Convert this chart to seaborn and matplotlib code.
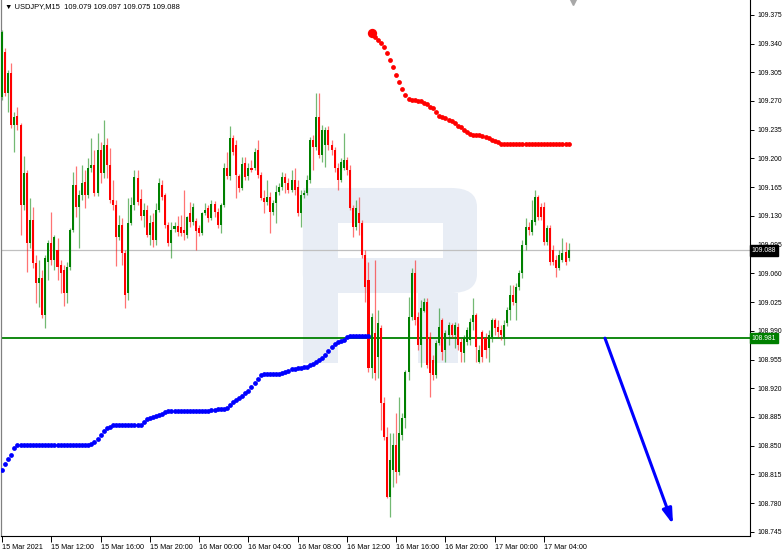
import numpy as np
import pandas as pd
import seaborn as sns
import matplotlib.pyplot as plt
from matplotlib.patches import Rectangle, FancyBboxPatch

# USDJPY M15, one candle per 15 minutes starting 15 Mar 2021 08:00
opens = [
    109.275, 109.330, 109.280, 109.304, 109.241, 109.252, 109.241, 109.143, 109.182, 109.097,
    109.125, 109.073, 109.048, 109.054, 109.009, 109.074, 109.097, 109.076, 109.088, 109.070,
    109.064, 109.036, 109.068, 109.113, 109.168, 109.141, 109.155, 109.171, 109.155, 109.188,
    109.192, 109.158, 109.210, 109.182, 109.216, 109.192, 109.149, 109.143, 109.104, 109.119,
    109.085, 109.036, 109.121, 109.143, 109.176, 109.151, 109.130, 109.137, 109.107, 109.123,
    109.101, 109.137, 109.168, 109.155, 109.119, 109.097, 109.114, 109.118, 109.116, 109.113,
    109.107, 109.133, 109.123, 109.124, 109.115, 109.109, 109.133, 109.140, 109.127, 109.144,
    109.135, 109.119, 109.143, 109.188, 109.179, 109.225, 109.216, 109.179, 109.164, 109.194,
    109.179, 109.188, 109.188, 109.210, 109.180, 109.152, 109.147, 109.153, 109.135, 109.146,
    109.159, 109.165, 109.177, 109.170, 109.162, 109.174, 109.165, 109.133, 109.155, 109.158,
    109.174, 109.222, 109.214, 109.250, 109.204, 109.216, 109.235, 109.216, 109.210, 109.188,
    109.174, 109.188, 109.198, 109.186, 109.140, 109.116, 109.133, 109.121, 109.082, 109.052,
    108.945, 108.987, 108.958, 108.993, 108.902, 108.861, 108.787, 108.820, 108.851, 108.818,
    108.863, 108.884, 108.940, 109.007, 109.060, 109.007, 108.973, 109.014, 109.025, 108.982,
    108.954, 108.936, 108.975, 109.003, 108.967, 108.985, 108.997, 108.985, 108.995, 108.976,
    108.963, 108.976, 108.979, 109.001, 109.009, 108.952, 108.988, 108.981, 108.969, 108.982,
    109.003, 108.995, 108.991, 108.982, 108.999, 109.015, 109.034, 109.024, 109.043, 109.060,
    109.094, 109.116, 109.110, 109.123, 109.153, 109.141, 109.141, 109.098, 109.115, 109.088,
    109.076, 109.066, 109.076, 109.086, 109.079,
]
highs = [
    109.356, 109.335, 109.308, 109.316, 109.257, 109.263, 109.243, 109.203, 109.186, 109.152,
    109.141, 109.082, 109.076, 109.064, 109.082, 109.101, 109.135, 109.107, 109.103, 109.076,
    109.070, 109.074, 109.115, 109.183, 109.191, 109.162, 109.192, 109.186, 109.200, 109.225,
    109.210, 109.231, 109.220, 109.247, 109.225, 109.213, 109.174, 109.149, 109.131, 109.127,
    109.088, 109.152, 109.153, 109.186, 109.186, 109.163, 109.146, 109.143, 109.131, 109.133,
    109.146, 109.176, 109.174, 109.158, 109.123, 109.123, 109.123, 109.130, 109.131, 109.162,
    109.130, 109.147, 109.146, 109.127, 109.119, 109.135, 109.146, 109.143, 109.149, 109.148,
    109.140, 109.146, 109.194, 109.208, 109.240, 109.229, 109.222, 109.181, 109.202, 109.202,
    109.194, 109.198, 109.213, 109.222, 109.183, 109.162, 109.174, 109.159, 109.149, 109.168,
    109.170, 109.183, 109.182, 109.176, 109.186, 109.188, 109.174, 109.162, 109.162, 109.180,
    109.226, 109.229, 109.280, 109.280, 109.241, 109.238, 109.240, 109.222, 109.214, 109.194,
    109.200, 109.231, 109.202, 109.192, 109.143, 109.149, 109.153, 109.125, 109.088, 109.074,
    109.012, 109.076, 109.015, 108.997, 108.909, 108.873, 108.865, 108.865, 108.890, 108.909,
    108.890, 108.942, 109.031, 109.066, 109.076, 109.013, 109.027, 109.030, 109.030, 108.988,
    108.960, 108.979, 109.018, 109.006, 108.991, 109.001, 108.999, 109.001, 108.999, 108.981,
    108.985, 108.995, 109.006, 109.030, 109.012, 108.973, 108.991, 108.987, 108.991, 109.006,
    109.006, 109.003, 108.997, 109.003, 109.019, 109.046, 109.046, 109.048, 109.064, 109.101,
    109.127, 109.123, 109.149, 109.162, 109.155, 109.146, 109.147, 109.119, 109.119, 109.094,
    109.082, 109.088, 109.103, 109.098, 109.097,
]
lows = [
    109.271, 109.276, 109.257, 109.237, 109.208, 109.235, 109.107, 109.137, 109.062, 109.091,
    109.066, 109.024, 109.019, 109.006, 108.993, 109.052, 109.070, 109.064, 109.052, 109.036,
    109.020, 109.024, 109.064, 109.110, 109.129, 109.091, 109.149, 109.140, 109.152, 109.183,
    109.154, 109.154, 109.170, 109.176, 109.176, 109.146, 109.137, 109.069, 109.101, 109.070,
    109.018, 109.027, 109.119, 109.137, 109.143, 109.125, 109.116, 109.104, 109.094, 109.092,
    109.094, 109.135, 109.149, 109.115, 109.093, 109.079, 109.110, 109.105, 109.105, 109.101,
    109.103, 109.116, 109.119, 109.088, 109.105, 109.107, 109.131, 109.123, 109.125, 109.129,
    109.115, 109.109, 109.141, 109.175, 109.174, 109.204, 109.152, 109.159, 109.162, 109.174,
    109.174, 109.183, 109.186, 109.176, 109.149, 109.133, 109.143, 109.109, 109.131, 109.121,
    109.155, 109.162, 109.158, 109.158, 109.159, 109.155, 109.130, 109.116, 109.152, 109.155,
    109.170, 109.186, 109.210, 109.200, 109.196, 109.190, 109.210, 109.204, 109.183, 109.162,
    109.171, 109.186, 109.180, 109.137, 109.104, 109.113, 109.107, 109.079, 109.025, 108.940,
    108.932, 108.930, 108.932, 108.869, 108.857, 108.786, 108.763, 108.800, 108.804, 108.814,
    108.857, 108.871, 108.930, 109.003, 108.997, 108.967, 108.946, 109.013, 108.945, 108.909,
    108.930, 108.932, 108.973, 108.954, 108.952, 108.973, 108.981, 108.969, 108.967, 108.952,
    108.952, 108.973, 108.973, 108.991, 108.952, 108.951, 108.952, 108.957, 108.952, 108.976,
    108.985, 108.982, 108.979, 108.973, 108.996, 109.003, 109.021, 109.003, 109.040, 109.054,
    109.088, 109.107, 109.107, 109.119, 109.125, 109.125, 109.094, 109.094, 109.070, 109.070,
    109.055, 109.064, 109.074, 109.070, 109.075,
]
closes = [
    109.354, 109.280, 109.304, 109.241, 109.250, 109.241, 109.143, 109.182, 109.097, 109.125,
    109.073, 109.048, 109.054, 109.009, 109.079, 109.097, 109.076, 109.104, 109.068, 109.060,
    109.036, 109.068, 109.113, 109.168, 109.141, 109.155, 109.170, 109.155, 109.188, 109.192,
    109.158, 109.210, 109.182, 109.216, 109.192, 109.149, 109.143, 109.104, 109.119, 109.085,
    109.034, 109.121, 109.143, 109.177, 109.147, 109.130, 109.137, 109.107, 109.121, 109.101,
    109.137, 109.170, 109.153, 109.119, 109.097, 109.113, 109.118, 109.110, 109.109, 109.109,
    109.129, 109.123, 109.141, 109.112, 109.109, 109.133, 109.137, 109.127, 109.144, 109.135,
    109.119, 109.143, 109.188, 109.179, 109.225, 109.208, 109.180, 109.164, 109.193, 109.177,
    109.188, 109.186, 109.208, 109.180, 109.152, 109.147, 109.153, 109.135, 109.146, 109.159,
    109.165, 109.177, 109.170, 109.162, 109.174, 109.162, 109.133, 109.155, 109.158, 109.174,
    109.222, 109.214, 109.250, 109.204, 109.235, 109.235, 109.216, 109.210, 109.188, 109.174,
    109.196, 109.198, 109.186, 109.140, 109.116, 109.140, 109.121, 109.082, 109.043, 108.945,
    109.007, 108.939, 108.999, 108.902, 108.861, 108.787, 108.832, 108.851, 108.818, 108.865,
    108.884, 108.940, 109.007, 109.060, 109.003, 108.973, 109.018, 109.025, 108.948, 108.939,
    108.936, 108.975, 108.995, 108.964, 108.987, 108.997, 108.985, 108.997, 108.973, 108.964,
    108.981, 108.991, 109.001, 109.009, 108.970, 108.967, 108.958, 108.967, 108.985, 109.003,
    108.993, 108.988, 108.985, 108.997, 109.015, 109.034, 109.025, 109.043, 109.060, 109.094,
    109.116, 109.113, 109.125, 109.153, 109.129, 109.129, 109.098, 109.115, 109.074, 109.074,
    109.066, 109.082, 109.085, 109.074, 109.088,
]

# dotted indicator below price (bars 0..119) and above price (bars 120..184)
dots_below = [
    108.820, 108.828, 108.834, 108.839, 108.847, 108.851, 108.851, 108.851, 108.851, 108.851,
    108.851, 108.851, 108.851, 108.851, 108.851, 108.851, 108.851, 108.851, 108.851, 108.851,
    108.851, 108.851, 108.851, 108.851, 108.851, 108.851, 108.851, 108.851, 108.851, 108.852,
    108.854, 108.858, 108.863, 108.868, 108.871, 108.873, 108.875, 108.875, 108.875, 108.875,
    108.875, 108.875, 108.875, 108.875, 108.875, 108.875, 108.879, 108.882, 108.884, 108.885,
    108.886, 108.887, 108.889, 108.891, 108.892, 108.892, 108.892, 108.892, 108.892, 108.892,
    108.892, 108.892, 108.892, 108.892, 108.892, 108.892, 108.892, 108.892, 108.893, 108.894,
    108.895, 108.895, 108.895, 108.896, 108.900, 108.903, 108.906, 108.908, 108.910, 108.914,
    108.917, 108.921, 108.926, 108.931, 108.936, 108.937, 108.937, 108.937, 108.937, 108.937,
    108.937, 108.938, 108.940, 108.941, 108.943, 108.944, 108.945, 108.945, 108.946, 108.946,
    108.948, 108.950, 108.952, 108.954, 108.957, 108.961, 108.965, 108.970, 108.974, 108.976,
    108.977, 108.979, 108.982, 108.984, 108.984, 108.984, 108.984, 108.984, 108.984, 108.984,
]
dots_above = [
    109.353, 109.348, 109.344, 109.341, 109.336, 109.328, 109.320, 109.311, 109.302, 109.293,
    109.285, 109.277, 109.272, 109.271, 109.271, 109.270, 109.270, 109.268, 109.266, 109.263,
    109.261, 109.257, 109.252, 109.250, 109.249, 109.247, 109.245, 109.243, 109.240, 109.238,
    109.235, 109.232, 109.230, 109.229, 109.229, 109.228, 109.227, 109.226, 109.225, 109.223,
    109.221, 109.220, 109.218, 109.217, 109.217, 109.217, 109.217, 109.217, 109.217, 109.217,
    109.217, 109.217, 109.217, 109.217, 109.217, 109.217, 109.217, 109.217, 109.217, 109.217,
    109.217, 109.217, 109.217, 109.217, 109.217,
]

level_price = 108.981
last_price = 109.088
arrow_start = (195.8, 108.981)
arrow_end = (217.9, 108.754)
header = "USDJPY,M15  109.079 109.097 109.075 109.088"

price_ticks = [108.745, 108.780, 108.815, 108.850, 108.885, 108.920, 108.955, 108.990,
               109.025, 109.060, 109.095, 109.130, 109.165, 109.200, 109.235, 109.270,
               109.305, 109.340, 109.375]
time_ticks = [0, 16, 32, 48, 64, 80, 96, 112, 128, 144, 160, 176]
time_labels = ["15 Mar 2021", "15 Mar 12:00", "15 Mar 16:00", "15 Mar 20:00",
               "16 Mar 00:00", "16 Mar 04:00", "16 Mar 08:00", "16 Mar 12:00",
               "16 Mar 16:00", "16 Mar 20:00", "17 Mar 00:00", "17 Mar 04:00"]

df = pd.DataFrame({"open": opens, "high": highs, "low": lows, "close": closes})
df["bar"] = np.arange(len(df))
up = df["close"] >= df["open"]
GREEN, RED = "#008000", "#FF0000"
body_col = np.where(up, GREEN, RED)

below = pd.DataFrame({"bar": np.arange(len(dots_below)), "price": dots_below})
above = pd.DataFrame({"bar": np.arange(len(df) - len(dots_above), len(df)), "price": dots_above})

sns.set_style("white")
plt.rcParams["font.family"] = ["Liberation Sans", "DejaVu Sans"]

fig = plt.figure(figsize=(7.82, 5.52), dpi=100)
ax = fig.add_axes([1 / 782, 16 / 552, 749 / 782, 536 / 552])

# watermark logo
wm = "#E8EDF5"
ax.add_patch(FancyBboxPatch((0.403, 0.4534), 0.2325, 0.1959,
                            boxstyle="round,pad=0,rounding_size=0.035",
                            transform=ax.transAxes, fc=wm, ec="none", zorder=0.3))
ax.add_patch(Rectangle((0.4499, 0.5187), 0.1402, 0.0653, transform=ax.transAxes,
                       fc="white", ec="none", zorder=0.4))
ax.add_patch(Rectangle((0.4032, 0.3228), 0.0467, 0.3265, transform=ax.transAxes,
                       fc=wm, ec="none", zorder=0.4))
ax.add_patch(Rectangle((0.5567, 0.3228), 0.0534, 0.1306, transform=ax.transAxes,
                       fc=wm, ec="none", zorder=0.4))

# horizontal levels
ax.axhline(last_price, color="#C0C0C0", lw=0.9, zorder=1)
ax.axhline(level_price, color=GREEN, lw=1.3, zorder=1.5)

# candles
ax.vlines(df["bar"], df["low"], df["high"], colors=body_col, lw=0.9, alpha=0.55, zorder=2)
body_h = (df["close"] - df["open"]).abs().clip(lower=0.0011)
body_bottom = np.minimum(df["open"], df["close"])
ax.bar(df["bar"], body_h, bottom=body_bottom, width=0.66, color=body_col, linewidth=0, zorder=3)

# dotted indicator
sns.scatterplot(data=below, x="bar", y="price", color="#0000FF", s=12, linewidth=0, ax=ax, zorder=4)
sns.scatterplot(data=above, x="bar", y="price", color="#FF0000", s=12, linewidth=0, ax=ax, zorder=4)
ax.scatter(above["bar"].iloc[:1], above["price"].iloc[:1], color="#FF0000", s=45, linewidths=0, zorder=4)

# forecast arrow
ax.annotate("", xy=arrow_end, xytext=arrow_start,
            arrowprops=dict(arrowstyle="-|>,head_length=0.9,head_width=0.28", color="#0000FF",
                            lw=2.2, shrinkA=0, shrinkB=0), zorder=5)

ax.set_xlim(-0.35, 242.9)
ax.set_ylim(108.740, 109.393)

ax.yaxis.tick_right()
ax.set_yticks(price_ticks)
ax.set_yticklabels([f"{p:.3f}" for p in price_ticks])
ax.set_xticks(time_ticks)
ax.set_xticklabels(time_labels, ha="left")
ax.tick_params(axis="y", which="major", direction="out", length=3, width=0.7, pad=2,
               labelsize=4.9, colors="black", right=True, left=False)
ax.tick_params(axis="x", which="major", direction="out", length=4, width=0.7, pad=2,
               labelsize=5.2, colors="black", bottom=True)
ax.set_xlabel("")
ax.set_ylabel("")

for side in ["right", "bottom"]:
    ax.spines[side].set_color("black")
    ax.spines[side].set_linewidth(0.8)
ax.spines["left"].set_color("#808080")
ax.spines["left"].set_linewidth(0.9)
ax.spines["top"].set_visible(False)

# price tags on the right scale
yt = ax.get_yaxis_transform()
ax.text(1.002, last_price, f"{last_price:.3f}", transform=yt, ha="left", va="center",
        fontsize=4.9, color="white", zorder=6, clip_on=False,
        bbox=dict(boxstyle="square,pad=0.25", fc="black", ec="black"))
ax.text(1.002, level_price, f"{level_price:.3f}", transform=yt, ha="left", va="center",
        fontsize=4.9, color="white", zorder=6, clip_on=False,
        bbox=dict(boxstyle="square,pad=0.25", fc=GREEN, ec=GREEN))

# header and chart shift marker
ax.text(0.005, 0.987, "\u25bc " + header, transform=ax.transAxes, ha="left", va="center",
        fontsize=5.4, color="black")
ax.plot([185.4], [0.996], transform=ax.get_xaxis_transform(), marker="v", ms=4,
        color="#A8A8A8", clip_on=False, zorder=6)

fig.savefig("out.png", dpi=100)
